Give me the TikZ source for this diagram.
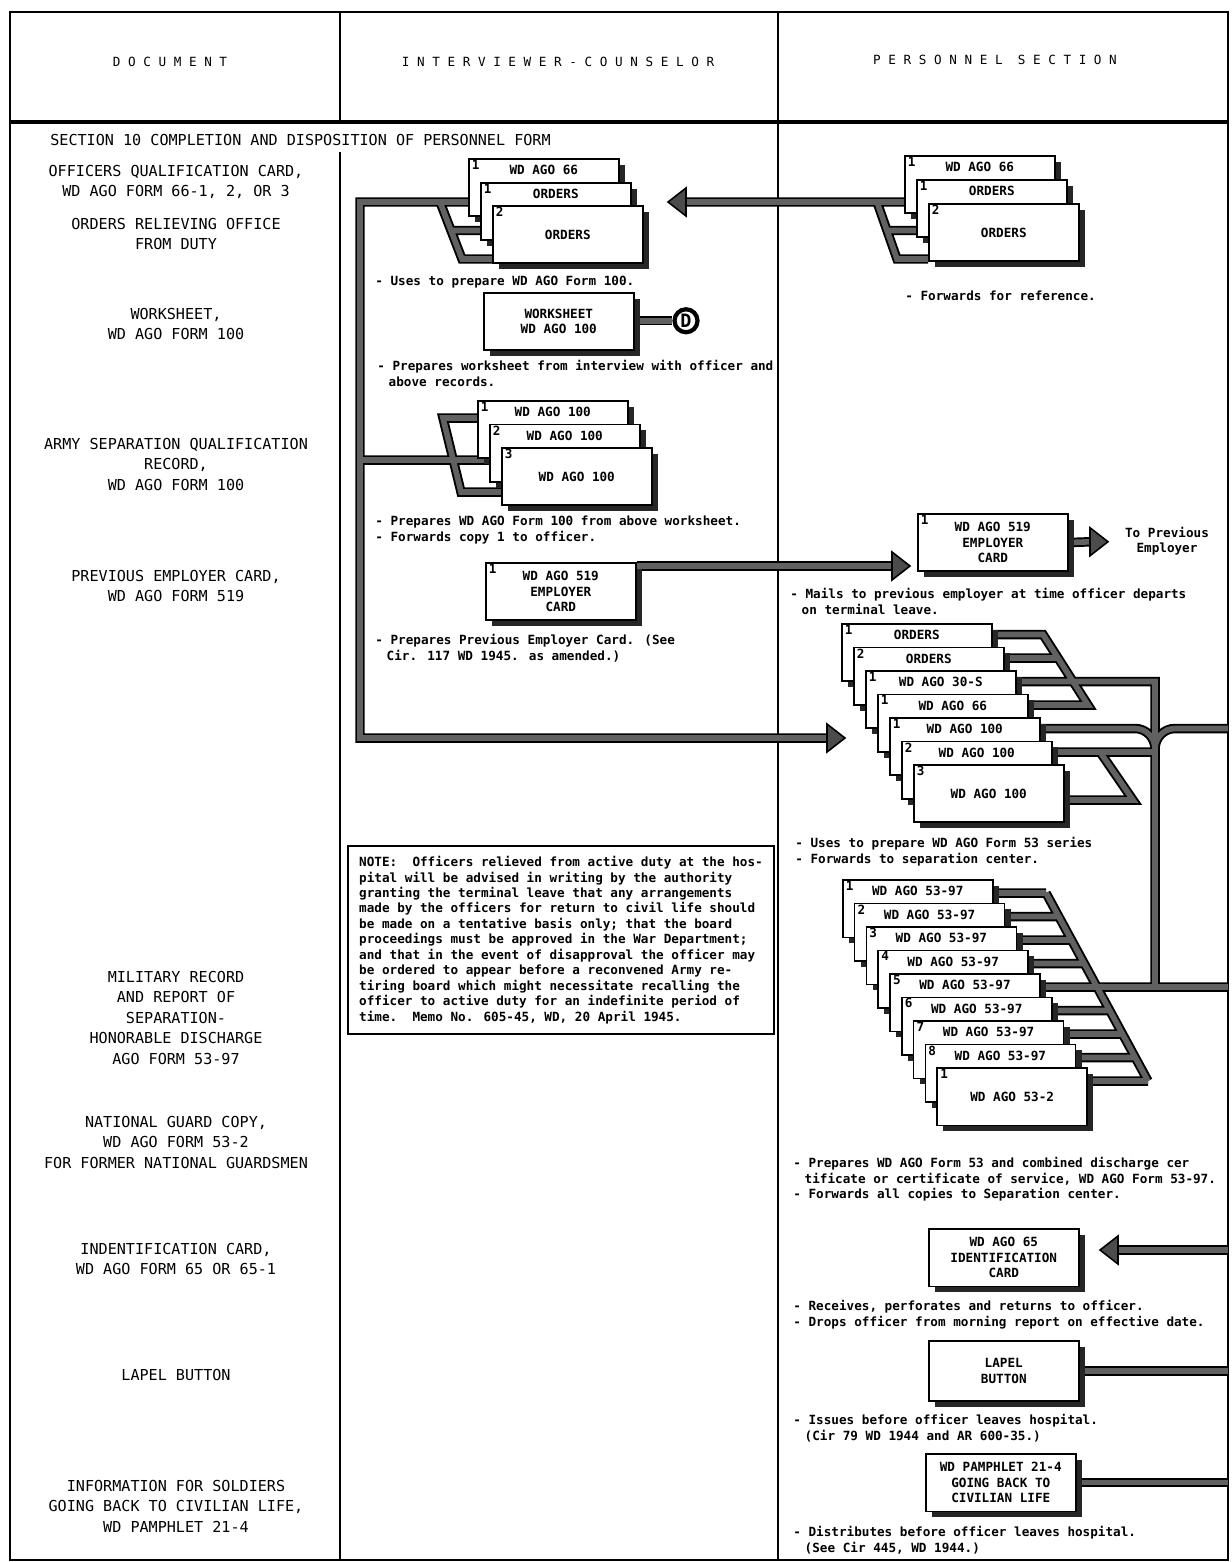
\documentclass[tikz,border=0pt]{standalone}
\usepackage{fontspec}
\newfontfamily\typefont{DejaVu Sans Mono}
\usetikzlibrary{shadows}
\pgfdeclarelayer{background}
\pgfsetlayers{background,main}
\newcommand{\ind}{\hspace*{0.9em}}

\begin{document}
\begin{tikzpicture}[x=0.02cm, y=-0.02cm,
  every node/.style={font={\typefont\bfseries\fontsize{7.2}{8.8}\selectfont}, inner sep=0pt},
  card/.style={draw, fill=white, line width=0.9pt, minimum width=3cm, minimum height=1.15cm,
    anchor=north west, align=center,
    drop shadow={shadow xshift=3.5pt, shadow yshift=-3.5pt, fill=black!85, opacity=1}},
  strip/.style={label={[anchor=north, yshift=-4pt]north:#1}},
  num/.style={label={[anchor=north west, xshift=2pt, yshift=-1pt]north west:#1}},
  doc/.style={anchor=north, align=center, font={\typefont\fontsize{8.6}{11.6}\selectfont}},
  head/.style={font={\typefont\fontsize{7.2}{8.8}\selectfont}},
  desc/.style={anchor=north west, align=left},
  frame/.style={line width=1.1pt},
  bus/.style={line width=3.2pt, black!62, preaction={draw=black, line width=5.4pt}},
  bigtip/.pic={\draw[fill=black!70, line width=0.9pt] (0,0) -- (-18,-14) -- (-18,14) -- cycle;},
]
\useasboundingbox (0,0) rectangle (1231,1562);

% column heads
\node[head] (h1) at (170,62) {D O C U M E N T};
\node[head] (h2) at (558,62) {I N T E R V I E W E R - C O U N S E L O R};
\node[head] (h3) at (995,60) {P E R S O N N E L\ \ S E C T I O N};
\node[anchor=west, font={\typefont\fontsize{8.6}{11.6}\selectfont}] (sec) at (50,140)
  {SECTION 10 COMPLETION AND DISPOSITION OF PERSONNEL FORM};

% document column
\node[doc] (l1) at (176,165) {OFFICERS QUALIFICATION CARD,\\WD AGO FORM 66-1, 2, OR 3};
\node[doc] (l2) at (176,218) {ORDERS RELIEVING OFFICE\\FROM DUTY};
\node[doc] (l3) at (176,308) {WORKSHEET,\\WD AGO FORM 100};
\node[doc] (l4) at (176,438) {ARMY SEPARATION QUALIFICATION\\RECORD,\\WD AGO FORM 100};
\node[doc] (l5) at (176,570) {PREVIOUS EMPLOYER CARD,\\WD AGO FORM 519};
\node[doc] (l6) at (176,971) {MILITARY RECORD\\AND REPORT OF\\SEPARATION-\\HONORABLE DISCHARGE\\AGO FORM 53-97};
\node[doc] (l7) at (176,1116) {NATIONAL GUARD COPY,\\WD AGO FORM 53-2\\FOR FORMER NATIONAL GUARDSMEN};
\node[doc] (l8) at (176,1243) {INDENTIFICATION CARD,\\WD AGO FORM 65 OR 65-1};
\node[doc] (l9) at (176,1369) {LAPEL BUTTON};
\node[doc] (l10) at (176,1480) {INFORMATION FOR SOLDIERS\\GOING BACK TO CIVILIAN LIFE,\\WD PAMPHLET 21-4};

% interviewer-counselor
\node[card, num=1, strip=WD AGO 66] (a1) at (468,158) {};
\node[card, num=1, strip=ORDERS] (a2) at (480,182) {};
\node[card, num=2] (a3) at (492,205) {ORDERS};
\node[desc] (t1) at (375,276) {- Uses to prepare WD AGO Form 100.};
\node[card] (ws) at (483,292) {WORKSHEET\\WD AGO 100};
\node[circle, draw, fill=white, line width=2.4pt, minimum size=0.46cm,
  font={\typefont\bfseries\fontsize{10.5}{10.5}\selectfont}] (dd) at (686,320.75) {D};
\node[desc] (t2) at (377,360) {- Prepares worksheet from interview with officer and\\\ind above records.};
\node[card, num=1, strip=WD AGO 100] (b1) at (477,400) {};
\node[card, num=2, strip=WD AGO 100] (b2) at (489,423.5) {};
\node[card, num=3] (b3) at (501,447) {WD AGO 100};
\node[desc] (t3) at (375,516) {- Prepares WD AGO Form 100 from above worksheet.\\- Forwards copy 1 to officer.};
\node[card, num=1] (e1) at (485,562) {WD AGO 519\\EMPLOYER\\CARD};
\node[desc] (t4) at (375,634) {- Prepares Previous Employer Card. (See\\\ind Cir. 117 WD 1945. as amended.)};
\node[draw, line width=1.2pt, anchor=north west, align=left, inner xsep=5.5pt,
  minimum width=8.52cm, minimum height=3.76cm] (note) at (347,845) {NOTE:\ \ Officers relieved from active duty at the hos-\\
pital will be advised in writing by the authority\\
granting the terminal leave that any arrangements\\
made by the officers for return to civil life should\\
be made on a tentative basis only; that the board\\
proceedings must be approved in the War Department;\\
and that in the event of disapproval the officer may\\
be ordered to appear before a reconvened Army re-\\
tiring board which might necessitate recalling the\\
officer to active duty for an indefinite period of\\
time.\ \ Memo No. 605-45, WD, 20 April 1945.};

% personnel section
\node[card, num=1, strip=WD AGO 66] (p1) at (904,155) {};
\node[card, num=1, strip=ORDERS] (p2) at (916,179) {};
\node[card, num=2] (p3) at (928,203) {ORDERS};
\node[desc] (t5) at (905,291) {- Forwards for reference.};
\node[card, num=1] (e2) at (917,513) {WD AGO 519\\EMPLOYER\\CARD};
\node[align=center] (emp) at (1167,541) {To Previous\\Employer};
\node[desc] (t6) at (790,588) {- Mails to previous employer at time officer departs\\\ind on terminal leave.};
\foreach \nr/\ttl [count=\i] in {1/ORDERS, 2/ORDERS, 1/WD AGO 30-S, 1/WD AGO 66, 1/WD AGO 100, 2/WD AGO 100}
  \node[card, num=\nr, strip=\ttl] (c\i) at ({841+12*(\i-1)}, {623+23.5*(\i-1)}) {};
\node[card, num=3] (c7) at (913,764) {WD AGO 100};
\node[desc] (t7) at (795,837) {- Uses to prepare WD AGO Form 53 series\\- Forwards to separation center.};
\foreach \i in {1,...,8}
  \node[card, num=\i, strip=WD AGO 53-97] (d\i) at ({842+11.8*(\i-1)}, {879+23.5*(\i-1)}) {};
\node[card, num=1] (d9) at (936.4,1067) {WD AGO 53-2};
\node[desc] (t8) at (793,1157) {- Prepares WD AGO Form 53 and combined discharge cer\\\ind tificate or certificate of service, WD AGO Form 53-97.\\- Forwards all copies to Separation center.};
\node[card] (id) at (928,1228) {WD AGO 65\\IDENTIFICATION\\CARD};
\node[desc] (t9) at (793,1300) {- Receives, perforates and returns to officer.\\- Drops officer from morning report on effective date.};
\node[card, minimum height=1.2cm] (lb) at (928,1340) {LAPEL\\BUTTON};
\node[desc] (t10) at (793,1414) {- Issues before officer leaves hospital.\\\ind (Cir 79 WD 1944 and AR 600-35.)};
\node[card] (pm) at (925,1453) {WD PAMPHLET 21-4\\GOING BACK TO\\CIVILIAN LIFE};
\node[desc] (t11) at (793,1526) {- Distributes before officer leaves hospital.\\\ind (See Cir 445, WD 1944.)};

% bends of the routing lines
\coordinate (rim) at (1228,0);
\coordinate (ia) at (360,202);
\coordinate (ib) at (360,738);
\coordinate (sa1) at (440,202);
\coordinate (sa2) at (462,259);
\coordinate (sa3) at (451,230.5);
\coordinate (sb1) at (443,418);
\coordinate (sb2) at (461,492);
\coordinate (sb3) at (453,460);
\coordinate (tb) at (828,738);
\coordinate (te) at (892,566);
\coordinate (sp1) at (877,202);
\coordinate (sp2) at (897,259);
\coordinate (sp3) at (887,230.5);
\coordinate (tp) at (686,202);
\coordinate (tq) at (1091,541.75);
\coordinate (sc1) at (1043,634.5);
\coordinate (sc2) at (1088,705);
\coordinate (sc3) at (1058,658);
\coordinate (sc5) at (1100,752);
\coordinate (sc6) at (1133,800);
\coordinate (cb) at (1155,681.5);
\coordinate (ce) at (1155,987);
\coordinate (cu) at (1135,728.5);
\coordinate (cv) at (1155,749);
\coordinate (cw) at (1175,728.5);
\coordinate (sd1) at (1046,893);
\coordinate (sd2) at (1148,1081);
\coordinate (sdj) at (1097,987);
\coordinate (tid) at (1118,1250);

\begin{pgfonlayer}{background}
  \draw[frame] (10,12) rectangle (1228,1560);
  \draw[line width=1.8pt] (10,122) -- (1228,122);
  \draw[frame] (340,12) -- (340,122) (340,152) -- (340,1560);
  \draw[frame] (778,12) -- (778,1560);

  \draw[bus] (a1.west |- ia) -- (ia) -- (ib) -- (tb)
    (sa1) -- (sa2) -- (a3.west |- sa2)
    (sa3) -- (a2.west |- sa3)
    (b1.west |- sb1) -- (sb1) -- (sb2) -- (b3.west |- sb2)
    (ia |- sb3) -- (b2.west |- sb3);
  \draw[bus] (ws.east |- dd) -- (dd.west);
  \draw[bus] (e1.east |- te) -- (te);
  \draw[bus] (tp) -- (p1.west |- sp1)
    (sp1) -- (sp2) -- (p3.west |- sp2)
    (sp3) -- (p2.west |- sp3);
  \draw[bus] (e2.east) -- (tq);
  \draw[bus] (c1.east |- sc1) -- (sc1) -- (sc2) -- (c4.east |- sc2)
    (c2.east |- sc3) -- (sc3)
    (c3.east |- cb) -- (cb) -- (ce)
    (c5.east |- cu) -- (cu) to[out=0, in=90] (cv) to[out=90, in=180] (cw) -- (rim |- cw)
    (c6.east |- sc5) -- (cb |- sc5)
    (sc5) -- (sc6) -- (c7.east |- sc6)
    (sd1) -- (sd2)
    (sdj) -- (rim |- sdj)
    foreach \i in {1,...,9} {({992+11.8*(\i-1)}, {893+23.5*(\i-1)}) -- ({1046+12.75*(\i-1)}, {893+23.5*(\i-1)})};
  \draw[bus] (rim |- tid) -- (tid);
  \draw[bus] (lb.east) -- (lb.east -| rim);
  \draw[bus] (pm.east) -- (pm.east -| rim);
\end{pgfonlayer}

% arrow heads
\pic[rotate=180] at (668,202) {bigtip};
\pic at (910,566) {bigtip};
\pic at (845,738) {bigtip};
\pic at (1108,541.75) {bigtip};
\pic[rotate=180] at (1100,1250) {bigtip};
\end{tikzpicture}
\end{document}
